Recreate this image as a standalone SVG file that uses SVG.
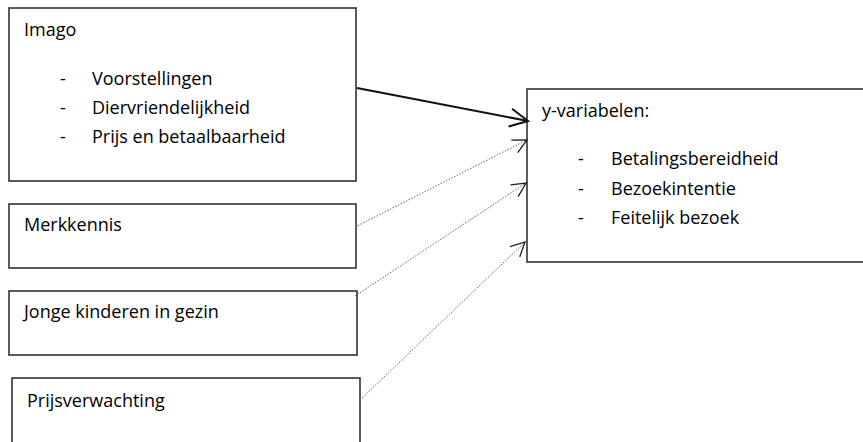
<svg xmlns="http://www.w3.org/2000/svg" width="863" height="442" viewBox="0 0 863 442">
<style>
.box{fill:#fff;stroke:#333;stroke-width:1.6}
text{font-family:"Open Sans","Liberation Sans",sans-serif;font-size:18px;fill:#000}
.solid{stroke:#111;stroke-width:2;fill:none}
.dot{stroke:#666;stroke-width:1;stroke-dasharray:1.5 1.5;fill:none}
</style>
<defs>
<marker id="ah" markerUnits="userSpaceOnUse" markerWidth="24" markerHeight="24" refX="0" refY="0" viewBox="-20 -12 24 24" orient="auto" overflow="visible">
<path d="M-18,-9 L0,0 L-18,9" fill="none" stroke="#111" stroke-width="2"/>
</marker>
<marker id="ad" markerUnits="userSpaceOnUse" markerWidth="20" markerHeight="20" refX="0" refY="0" viewBox="-16 -10 20 20" orient="auto" overflow="visible">
<path d="M-14,-7 L0,0 L-14,7" fill="none" stroke="#222" stroke-width="1.3"/>
</marker>
</defs>
<rect width="863" height="442" fill="#fff"/>
<g id="imago">
<rect class="box" x="9" y="8" width="347" height="173"/>
<text x="24" y="36">Imago</text>
<text x="60" y="85">-</text><text x="92" y="85">Voorstellingen</text>
<text x="60" y="114">-</text><text x="92" y="114">Diervriendelijkheid</text>
<text x="60" y="143">-</text><text x="92" y="143">Prijs en betaalbaarheid</text>
</g>
<g id="yvar">
<rect class="box" x="527" y="89" width="345" height="173"/>
<text x="542" y="117">y-variabelen:</text>
<text x="578" y="165">-</text><text x="611" y="165">Betalingsbereidheid</text>
<text x="578" y="195">-</text><text x="611" y="195">Bezoekintentie</text>
<text x="578" y="224">-</text><text x="611" y="224">Feitelijk bezoek</text>
</g>
<g id="merkkennis">
<rect class="box" x="9" y="204" width="347" height="64"/>
<text x="24" y="231">Merkkennis</text>
</g>
<g id="kinderen">
<rect class="box" x="9" y="291" width="348" height="64"/>
<text x="24" y="318">Jonge kinderen in gezin</text>
</g>
<g id="prijsverwachting">
<rect class="box" x="12" y="378" width="348" height="80"/>
<text x="27" y="407">Prijsverwachting</text>
</g>
<g id="connectors">
<line class="solid" x1="357" y1="88" x2="528" y2="121" marker-end="url(#ah)"/>
<line class="dot" x1="355" y1="227" x2="527" y2="140" marker-end="url(#ad)"/>
<line class="dot" x1="355" y1="296" x2="526" y2="183" marker-end="url(#ad)"/>
<line class="dot" x1="360" y1="400" x2="525" y2="242" marker-end="url(#ad)"/>
</g>
</svg>
